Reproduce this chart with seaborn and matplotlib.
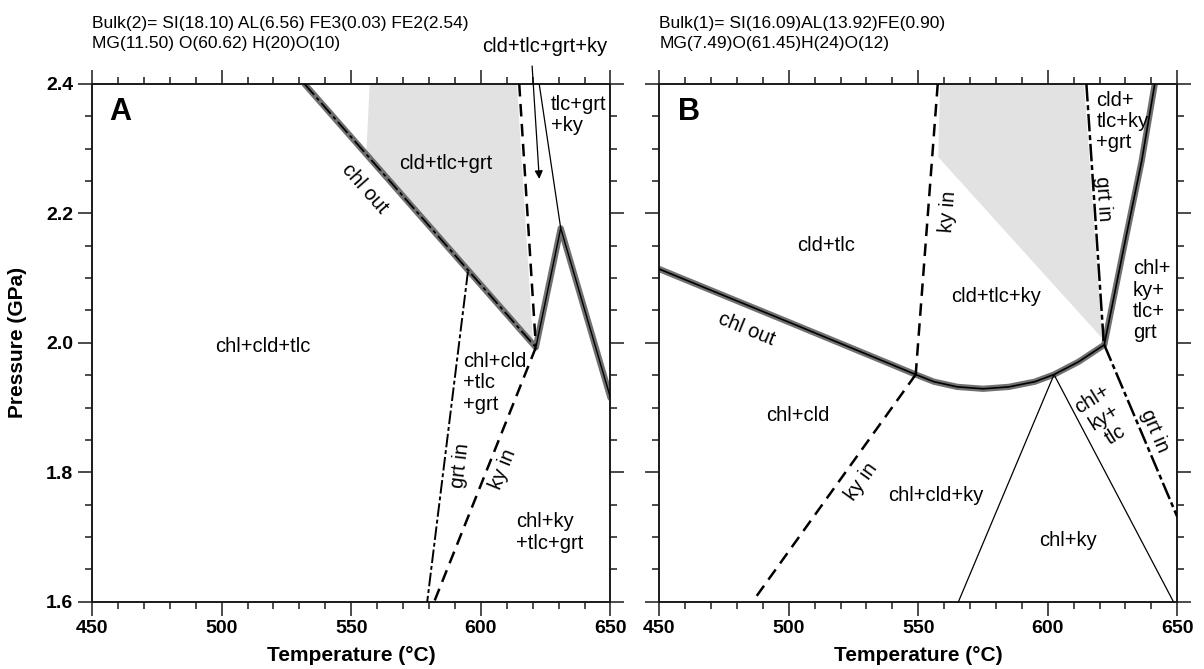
import matplotlib
matplotlib.use("Agg")
import matplotlib.pyplot as plt
import seaborn as sns
from matplotlib.ticker import MultipleLocator

sns.set_theme(style="ticks")
plt.rcParams['font.family'] = ['Liberation Sans', 'DejaVu Sans']
plt.rcParams['text.color'] = 'black'
plt.rcParams['axes.labelcolor'] = 'black'
plt.rcParams['xtick.color'] = 'black'
plt.rcParams['ytick.color'] = 'black'

# ==================================================
# dados - painel A  (T em °C, P em GPa)
# ==================================================
a_chl_out_T = [532.0, 621.2]
a_chl_out_P = [2.40, 1.993]
a_v_T = [621.2, 630.8, 650.0]
a_v_P = [1.993, 2.177, 1.915]
a_cld_T = [614.8, 621.2]
a_cld_P = [2.40, 1.995]
a_thin_T = [622.5, 630.8]
a_thin_P = [2.40, 2.177]
a_grt_T = [595.0, 579.3]
a_grt_P = [2.11, 1.60]
a_ky_T = [621.2, 582.0]
a_ky_P = [1.993, 1.60]
a_field_T = [557.1, 555.8, 620.0, 613.9]
a_field_P = [2.40, 2.29, 2.005, 2.40]

a_labels = ["chl+cld+tlc", "cld+tlc+grt", "chl out", "tlc+grt\n+ky",
            "chl+cld\n+tlc\n+grt", "grt in", "ky in", "chl+ky\n+tlc+grt"]
a_lab_T = [516.0, 586.6, 555.4, 627.0, 593.2, 591.9, 608.7, 613.6]
a_lab_P = [1.994, 2.277, 2.239, 2.352, 1.938, 1.810, 1.805, 1.707]
a_lab_rot = [0, 0, -48.6, 0, 0, 83, 68, 0]
a_lab_ha = ["center", "center", "center", "left", "left", "center", "center", "left"]

# ==================================================
# dados - painel B
# ==================================================
b_chl_out_T = [450.0, 500.0, 540.0, 549.0, 556.0, 565.0, 575.0, 585.0, 595.0, 602.4, 612.0, 621.8]
b_chl_out_P = [2.114, 2.032, 1.966, 1.951, 1.940, 1.932, 1.929, 1.932, 1.940, 1.951, 1.971, 1.997]
b_steep_T = [621.8, 629.5, 636.2, 641.3]
b_steep_P = [1.997, 2.150, 2.280, 2.400]
b_ky_up_T = [557.5, 549.0]
b_ky_up_P = [2.40, 1.951]
b_ky_low_T = [549.0, 486.0]
b_ky_low_P = [1.951, 1.60]
b_grt_up_T = [614.9, 621.6]
b_grt_up_P = [2.40, 2.000]
b_grt_low_T = [621.8, 650.0]
b_grt_low_P = [1.997, 1.731]
b_tri_T = [565.5, 602.4, 648.5]
b_tri_P = [1.60, 1.951, 1.60]
b_field_T = [558.4, 557.7, 621.0, 614.0]
b_field_P = [2.40, 2.287, 2.007, 2.40]

b_labels = ["cld+tlc", "chl out", "ky in", "cld+tlc+ky", "cld+\ntlc+ky\n+grt", "grt in",
            "chl+\nky+\ntlc+\ngrt", "chl+cld", "ky in", "chl+cld+ky", "chl+ky",
            "chl+\nky+\ntlc", "grt in"]
b_lab_T = [514.4, 483.5, 561.6, 580.2, 618.8, 621.3, 632.9, 503.3, 527.9, 556.6, 607.9, 621.6, 641.4]
b_lab_P = [2.150, 2.021, 2.203, 2.071, 2.342, 2.223, 2.065, 1.887, 1.785, 1.764, 1.694, 1.885, 1.864]
b_lab_rot = [0, -22.3, 85.7, 0, 0, -86, 0, 0, 54.3, 0, 0, 32, -66.7]
b_lab_ha = ["center", "center", "center", "center", "left", "center", "left",
            "center", "center", "center", "center", "center", "center"]

bulk_a = ["Bulk(2)= SI(18.10) AL(6.56) FE3(0.03) FE2(2.54)", "MG(11.50) O(60.62) H(20)O(10)"]
bulk_b = ["Bulk(1)= SI(16.09)AL(13.92)FE(0.90)", "MG(7.49)O(61.45)H(24)O(12)"]

GRAY_LINE = "#707070"
FIELD = "#e2e2e2"
LAB_FS = 14.5


def linha(ax, T, P, **kw):
    sns.lineplot(x=T, y=P, sort=False, estimator=None, ax=ax, legend=False, **kw)


def eixo(ax, ylabels=True):
    ax.set_xlim(450, 650)
    ax.set_ylim(1.6, 2.4)
    ax.xaxis.set_major_locator(MultipleLocator(50))
    ax.xaxis.set_minor_locator(MultipleLocator(10))
    ax.yaxis.set_major_locator(MultipleLocator(0.2))
    ax.yaxis.set_minor_locator(MultipleLocator(0.05))
    ax.yaxis.set_major_formatter(plt.FormatStrFormatter('%.1f'))
    ax.tick_params(which='both', direction='out', top=True, right=True,
                   bottom=True, left=True, labeltop=False, labelright=False,
                   width=1.1, color='#1a1a1a')
    ax.tick_params(which='major', length=10, pad=3.5, labelsize=14)
    ax.tick_params(which='minor', length=5)
    ax.tick_params(labelleft=ylabels)
    for lab in ax.get_xticklabels() + ax.get_yticklabels():
        lab.set_fontweight('bold')
    for s in ax.spines.values():
        s.set_linewidth(1.4)
        s.set_color('#1a1a1a')
    ax.set_xlabel("Temperature (°C)", fontsize=15, fontweight='bold')
    ax.xaxis.set_label_coords(0.5, -0.085)
    ax.set_facecolor('white')


fig = plt.figure(figsize=(12.04, 6.69), dpi=100)
ax_a = fig.add_axes([92 / 1204, 1 - 601.7 / 669, 518.5 / 1204, 517.7 / 669])
ax_b = fig.add_axes([659.3 / 1204, 1 - 601.7 / 669, 518.0 / 1204, 517.7 / 669])

# ---------------- painel A
ax_a.fill(a_field_T, a_field_P, color=FIELD, lw=0, zorder=1)
linha(ax_a, a_chl_out_T + a_v_T[1:], a_chl_out_P + a_v_P[1:], color=GRAY_LINE, linewidth=4.5, zorder=2)
linha(ax_a, a_chl_out_T, a_chl_out_P, color='black', linewidth=1.3, linestyle=(0, (8, 2, 2, 2)), zorder=3)
linha(ax_a, a_v_T, a_v_P, color='black', linewidth=1.0, zorder=3)
linha(ax_a, a_cld_T, a_cld_P, color='black', linewidth=1.8, linestyle=(0, (5, 3)), zorder=3)
linha(ax_a, a_thin_T, a_thin_P, color='black', linewidth=0.9, zorder=3)
linha(ax_a, a_grt_T, a_grt_P, color='black', linewidth=1.4, linestyle=(0, (7, 1.5, 2, 1.5)), zorder=3)
linha(ax_a, a_ky_T, a_ky_P, color='black', linewidth=1.8, linestyle=(0, (5, 3)), zorder=3)
for txt, t, p, r, ha in zip(a_labels, a_lab_T, a_lab_P, a_lab_rot, a_lab_ha):
    ax_a.text(t, p, txt, fontsize=LAB_FS, rotation=r, ha=ha, va='center',
              rotation_mode='anchor', linespacing=1.15, zorder=4)
ax_a.text(461, 2.357, "A", fontsize=22, fontweight='bold', ha='center', va='center')
ax_a.annotate("", xy=(622.6, 2.249), xytext=(619.7, 2.432),
              arrowprops=dict(arrowstyle="-|>", lw=0.9, color='black', mutation_scale=12),
              annotation_clip=False)
ax_a.text(624.5, 2.458, "cld+tlc+grt+ky", fontsize=LAB_FS, ha='center', va='center')
eixo(ax_a)
ax_a.set_ylabel("Pressure (GPa)", fontsize=15, fontweight='bold')
ax_a.yaxis.set_label_coords(-0.125, 0.5)

# ---------------- painel B
ax_b.fill(b_field_T, b_field_P, color=FIELD, lw=0, zorder=1)
linha(ax_b, b_chl_out_T + b_steep_T[1:], b_chl_out_P + b_steep_P[1:], color=GRAY_LINE, linewidth=4.5, zorder=2)
linha(ax_b, b_chl_out_T + b_steep_T[1:], b_chl_out_P + b_steep_P[1:], color='black', linewidth=1.2, zorder=3)
linha(ax_b, b_ky_up_T, b_ky_up_P, color='black', linewidth=1.8, linestyle=(0, (5, 3)), zorder=3)
linha(ax_b, b_ky_low_T, b_ky_low_P, color='black', linewidth=1.8, linestyle=(0, (5, 3)), zorder=3)
linha(ax_b, b_grt_up_T, b_grt_up_P, color='black', linewidth=1.8, linestyle=(0, (7, 1.5, 2, 1.5)), zorder=3)
linha(ax_b, b_grt_low_T, b_grt_low_P, color='black', linewidth=1.8, linestyle=(0, (7, 1.5, 2, 1.5)), zorder=3)
linha(ax_b, b_tri_T, b_tri_P, color='black', linewidth=0.9, zorder=3)
for txt, t, p, r, ha in zip(b_labels, b_lab_T, b_lab_P, b_lab_rot, b_lab_ha):
    ax_b.text(t, p, txt, fontsize=LAB_FS, rotation=r, ha=ha, va='center',
              rotation_mode='anchor', linespacing=1.15, zorder=4)
ax_b.text(461.6, 2.356, "B", fontsize=22, fontweight='bold', ha='center', va='center')
eixo(ax_b, ylabels=False)
ax_b.set_ylabel("")

# textos de composicao
for i, linha_txt in enumerate(bulk_a):
    fig.text(92 / 1204, 1 - (23.6 + 20.2 * i) / 669, linha_txt, fontsize=12.5, va='center', ha='left')
for i, linha_txt in enumerate(bulk_b):
    fig.text(659.3 / 1204, 1 - (23.6 + 20.2 * i) / 669, linha_txt, fontsize=12.5, va='center', ha='left')

fig.savefig("out.png", dpi=100, facecolor='white')
